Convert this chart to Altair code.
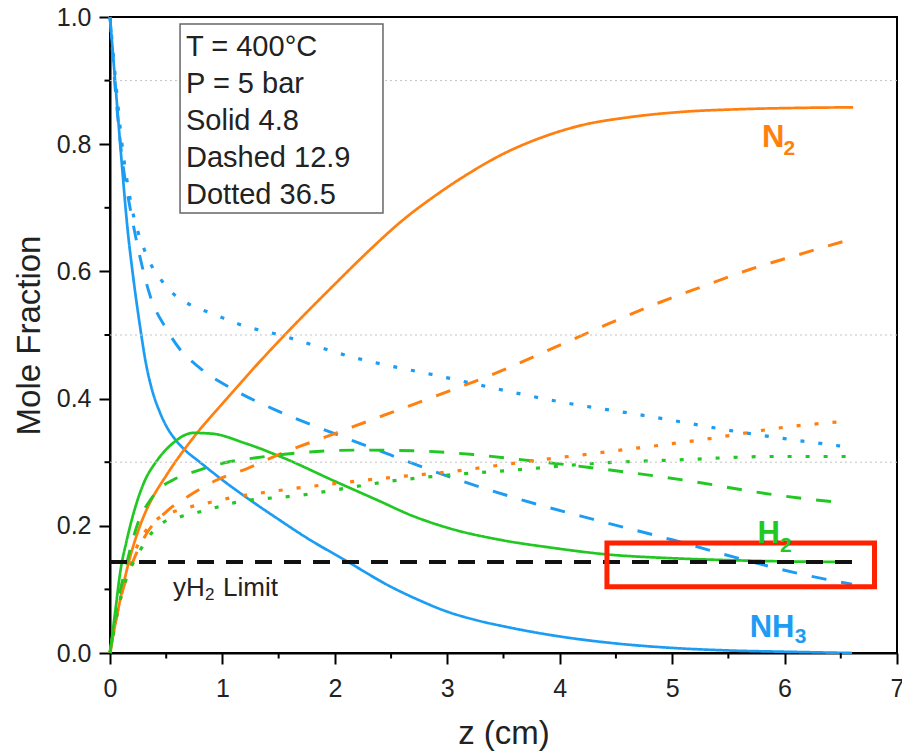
import altair as alt
import pandas as pd

# ---------------- data ----------------
species_order = ["NH3", "N2", "H2"]
species_colors = ["#1c9cf2", "#ff7f0f", "#22c822"]
runs = ["Solid 4.8", "Dashed 12.9", "Dotted 36.5"]
run_dash = [[1, 0], [15, 15], [4, 14]]
run_width = [2.7, 3.2, 4.0]

# Solid (4.8)
nh3_solid_z = [0, 0.05, 0.1, 0.16, 0.2, 0.27, 0.32, 0.38, 0.44, 0.5, 0.57, 0.65, 0.8, 1.0, 1.25, 1.5, 1.75, 2.1, 2.5, 2.75, 3.0, 3.25, 3.5, 4.0, 4.5, 5.0, 5.5, 6.0, 6.6]
nh3_solid_y = [1.0, 0.89, 0.78, 0.66, 0.6, 0.51, 0.455, 0.41, 0.38, 0.357, 0.338, 0.322, 0.3, 0.272, 0.24, 0.21, 0.181, 0.145, 0.104, 0.083, 0.065, 0.052, 0.042, 0.026, 0.015, 0.008, 0.004, 0.002, 0.0]
n2_solid_z = [0, 0.06, 0.15, 0.3, 0.36, 0.5, 0.77, 1.0, 1.3, 1.57, 2.0, 2.3, 2.6, 2.9, 3.2, 3.5, 3.8, 4.2, 4.6, 5.1, 5.6, 6.1, 6.61]
n2_solid_y = [0, 0.057, 0.131, 0.215, 0.238, 0.279, 0.345, 0.392, 0.452, 0.503, 0.58, 0.632, 0.68, 0.72, 0.755, 0.785, 0.808, 0.83, 0.842, 0.851, 0.855, 0.857, 0.858]
h2_solid_z = [0, 0.05, 0.09, 0.15, 0.21, 0.3, 0.42, 0.56, 0.74, 0.9, 1.2, 1.54, 2.0, 2.37, 2.7, 3.02, 3.5, 3.91, 4.42, 5.0, 5.5, 6.0, 6.6]
h2_solid_y = [0, 0.07, 0.126, 0.178, 0.22, 0.267, 0.303, 0.33, 0.346, 0.345, 0.33, 0.307, 0.27, 0.241, 0.215, 0.196, 0.177, 0.166, 0.155, 0.149, 0.146, 0.144, 0.143]

# Dashed (12.9)
nh3_dash_z = [0, 0.05, 0.1, 0.2, 0.27, 0.36, 0.5, 0.62, 0.8, 1.1, 1.5, 1.98, 2.5, 3.02, 3.62, 4.3, 5.0, 5.65, 6.1, 6.6]
nh3_dash_y = [1.0, 0.88, 0.79, 0.68, 0.62, 0.56, 0.51, 0.478, 0.448, 0.414, 0.38, 0.346, 0.311, 0.277, 0.243, 0.21, 0.178, 0.146, 0.126, 0.108]
n2_dash_z = [0, 0.05, 0.1, 0.2, 0.33, 0.5, 0.71, 0.95, 1.22, 1.5, 2.0, 2.5, 3.02, 3.5, 3.91, 4.4, 4.8, 5.25, 5.69, 6.1, 6.58]
n2_dash_y = [0, 0.05, 0.09, 0.142, 0.189, 0.222, 0.248, 0.272, 0.29, 0.312, 0.345, 0.378, 0.412, 0.445, 0.477, 0.515, 0.545, 0.575, 0.603, 0.625, 0.65]
h2_dash_z = [0, 0.05, 0.15, 0.25, 0.36, 0.45, 0.56, 0.8, 1.04, 1.3, 1.69, 2.2, 2.7, 3.02, 3.23, 3.76, 4.3, 5.1, 5.9, 6.52]
h2_dash_y = [0, 0.06, 0.142, 0.205, 0.241, 0.26, 0.272, 0.288, 0.3, 0.307, 0.315, 0.319, 0.318, 0.315, 0.312, 0.302, 0.291, 0.272, 0.249, 0.236]

# Dotted (36.5)
nh3_dot_z = [0, 0.05, 0.1, 0.18, 0.31, 0.47, 0.74, 0.89, 1.18, 1.51, 2.14, 2.94, 4.0, 4.8, 5.58, 6.56]
nh3_dot_y = [1.0, 0.9, 0.81, 0.713, 0.632, 0.583, 0.545, 0.535, 0.515, 0.5, 0.466, 0.435, 0.395, 0.372, 0.348, 0.324]
n2_dot_z = [0, 0.05, 0.1, 0.24, 0.44, 0.62, 0.92, 1.1, 1.4, 1.98, 2.5, 3.02, 3.62, 4.45, 5.25, 6.05, 6.52]
n2_dot_y = [0, 0.05, 0.09, 0.167, 0.213, 0.225, 0.238, 0.245, 0.253, 0.266, 0.276, 0.285, 0.299, 0.317, 0.335, 0.356, 0.364]
h2_dot_z = [0, 0.05, 0.1, 0.27, 0.47, 0.62, 0.8, 1.1, 1.69, 2.58, 3.02, 3.62, 4.3, 5.1, 5.9, 6.57]
h2_dot_y = [0, 0.05, 0.09, 0.162, 0.205, 0.214, 0.222, 0.236, 0.248, 0.272, 0.28, 0.288, 0.298, 0.304, 0.309, 0.309]

# axes
x_major = [0, 1, 2, 3, 4, 5, 6, 7]
x_minor = [0.5, 1.5, 2.5, 3.5, 4.5, 5.5, 6.5]
y_major = [0.0, 0.2, 0.4, 0.6, 0.8, 1.0]
y_minor = [0.1, 0.3, 0.5, 0.7, 0.9]
y_grid = [0.3, 0.5, 0.9]

# annotations
limit_z = [0, 6.61]
limit_y = [0.143, 0.143]
limit_parts = ["yH", "2", "Limit"]
limit_parts_z = [0.56, 0.845, 1.005]
limit_parts_y = [0.0895, 0.0833, 0.0895]
highlight_z = [4.42, 6.80]
highlight_y = [0.104, 0.173]
info_lines = ["T = 400°C", "P = 5 bar", "Solid 4.8", "Dashed 12.9", "Dotted 36.5"]
info_box_z = [0.623, 2.428]
info_box_y = [0.692, 0.989]
species_labels = ["N", "H", "NH"]
species_label_z = [5.80, 5.76, 5.69]
species_label_y = [0.796, 0.173, 0.025]
species_subs = ["2", "2", "3"]
species_sub_z = [5.99, 5.96, 6.09]
species_sub_y = [0.783, 0.159, 0.0157]
species_label_colors = ["#ff7f0f", "#22c822", "#1c9cf2"]

FONT = "Liberation Sans"

# ---------------- build table ----------------
series = [
    ("NH3", runs[0], nh3_solid_z, nh3_solid_y),
    ("N2", runs[0], n2_solid_z, n2_solid_y),
    ("H2", runs[0], h2_solid_z, h2_solid_y),
    ("NH3", runs[1], nh3_dash_z, nh3_dash_y),
    ("N2", runs[1], n2_dash_z, n2_dash_y),
    ("H2", runs[1], h2_dash_z, h2_dash_y),
    ("NH3", runs[2], nh3_dot_z, nh3_dot_y),
    ("N2", runs[2], n2_dot_z, n2_dot_y),
    ("H2", runs[2], h2_dot_z, h2_dot_y),
]
rows = []
for sp, rn, zs, ys in series:
    for zv, yv in zip(zs, ys):
        rows.append({"z": zv, "y": yv, "species": sp, "run": rn})
df = pd.DataFrame(rows)

W, H = 787, 636
xs = alt.Scale(domain=[0, 7], nice=False, zero=False)
ys_ = alt.Scale(domain=[0, 1], nice=False)

x_axis = alt.Axis(
    values=x_major, format="d",
    tickSize=11, tickWidth=2, tickColor="black", domainWidth=2, domainColor="black",
    labelFontSize=25, labelFont=FONT, labelColor="#222", labelPadding=12,
    labelOverlap=False, labelFlush=False, grid=False,
    title="z (cm)", titleFontSize=33, titleFont=FONT, titleFontWeight="normal",
    titleColor="#222", titlePadding=16,
)
y_axis = alt.Axis(
    values=y_major, format=".1f",
    tickSize=11, tickWidth=2, tickColor="black", domainWidth=2, domainColor="black",
    labelFontSize=25, labelFont=FONT, labelColor="#222", labelPadding=8,
    labelOverlap=False, labelFlush=False, grid=False,
    title="Mole Fraction", titleFontSize=33, titleFont=FONT, titleFontWeight="normal",
    titleColor="#222", titlePadding=10,
)


def X(field="z"):
    return alt.X(f"{field}:Q", scale=xs, axis=x_axis)


def Y(field="y"):
    return alt.Y(f"{field}:Q", scale=ys_, axis=y_axis)


lines = alt.Chart(df).mark_line(interpolate="monotone", strokeCap="butt").encode(
    x=X(),
    y=Y(),
    color=alt.Color("species:N", scale=alt.Scale(domain=species_order, range=species_colors), legend=None),
    strokeDash=alt.StrokeDash("run:N", scale=alt.Scale(domain=runs, range=run_dash), legend=None),
    strokeWidth=alt.StrokeWidth("run:N", scale=alt.Scale(domain=runs, range=run_width), legend=None),
    detail="species:N",
)

grid = alt.Chart(pd.DataFrame({"y": y_grid})).mark_rule(
    color="#c4c4c4", strokeWidth=1, strokeDash=[2, 3]
).encode(y=Y(), x=alt.value(0), x2=alt.value(W))

xminor = alt.Chart(pd.DataFrame({"z": x_minor})).mark_rule(color="black", strokeWidth=2).encode(
    x=X(), y=alt.value(H), y2=alt.value(H + 5.5)
)
yminor = alt.Chart(pd.DataFrame({"y": y_minor})).mark_rule(color="black", strokeWidth=2).encode(
    y=Y(), x=alt.value(0), x2=alt.value(-5.5)
)

limit = alt.Chart(pd.DataFrame({"z": limit_z, "y": limit_y})).mark_line(
    color="#111", strokeWidth=4, strokeDash=[17, 12]
).encode(x=X(), y=Y())

lim_df = pd.DataFrame({"z": limit_parts_z, "y": limit_parts_y, "t": limit_parts, "fs": [26, 17, 26]})
lim_txt = alt.Chart(lim_df).mark_text(
    align="left", baseline="alphabetic", font=FONT, color="#222"
).encode(x=X(), y=Y(), text="t:N", size=alt.Size("fs:Q", scale=None))

hl_df = pd.DataFrame({"z": [highlight_z[0]], "z2": [highlight_z[1]], "y": [highlight_y[0]], "y2": [highlight_y[1]]})
highlight = alt.Chart(hl_df).mark_rect(fillOpacity=0, stroke="#ff2200", strokeWidth=5).encode(
    x=X(), x2="z2:Q", y=Y(), y2="y2:Q"
)

box_df = pd.DataFrame({"z": [info_box_z[0]], "z2": [info_box_z[1]], "y": [info_box_y[0]], "y2": [info_box_y[1]]})
info_box = alt.Chart(box_df).mark_rect(fill="white", stroke="#666", strokeWidth=1.5).encode(
    x=X(), x2="z2:Q", y=Y(), y2="y2:Q"
)
info_txt = alt.Chart(pd.DataFrame({"z": [0.676], "y": [0.975], "t": ["\n".join(info_lines)]})).mark_text(
    align="left", baseline="top", lineBreak="\n", lineHeight=37, fontSize=29, font=FONT, color="#222"
).encode(x=X(), y=Y(), text="t:N")

lab_df = pd.DataFrame({"z": species_label_z, "y": species_label_y, "t": species_labels, "c": species_label_colors})
sp_labels = alt.Chart(lab_df).mark_text(
    align="left", baseline="alphabetic", fontSize=31, fontWeight="bold", font=FONT
).encode(x=X(), y=Y(), text="t:N", color=alt.Color("c:N", scale=None))

sub_df = pd.DataFrame({"z": species_sub_z, "y": species_sub_y, "t": species_subs, "c": species_label_colors})
sp_subs = alt.Chart(sub_df).mark_text(
    align="left", baseline="alphabetic", fontSize=21, fontWeight="bold", font=FONT
).encode(x=X(), y=Y(), text="t:N", color=alt.Color("c:N", scale=None))

chart = alt.layer(
    lines, grid, xminor, yminor, limit, lim_txt, highlight, info_box, info_txt, sp_labels, sp_subs
).properties(
    width=W, height=H,
    autosize=alt.AutoSizeParams(type="none"),
    padding={"left": 110, "top": 17, "right": 5, "bottom": 99},
    background="white",
).configure_view(stroke="black", strokeWidth=2)

chart.save("out.html", embed_options={"renderer": "svg", "actions": False})
